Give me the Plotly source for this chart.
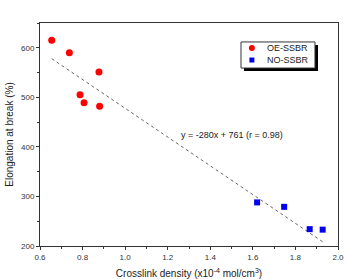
import plotly.graph_objects as go

oe_x = [0.655, 0.738, 0.877, 0.788, 0.807, 0.880]
oe_y = [615, 590, 551, 505, 489, 482]
no_x = [1.620, 1.747, 1.867, 1.928]
no_y = [288, 279, 234, 233]
# dotted fit line as drawn in the picture (end points)
fit_x = [0.655, 1.93]
fit_y = [578, 208]
fit_label = "y = -280x + 761 (r = 0.98)"
legend_names = ["OE-SSBR", "NO-SSBR"]

font = "Liberation Sans, Arial, sans-serif"
red = "#ff0000"
blue = "#0000ee"
fig = go.Figure()
fig.add_trace(go.Scatter(x=fit_x, y=fit_y, mode="lines", showlegend=False,
                         line=dict(color="#666666", width=1, dash="dot")))
fig.add_trace(go.Scatter(x=oe_x, y=oe_y, mode="markers", name=legend_names[0], showlegend=False,
                         marker=dict(color=red, size=7, symbol="circle")))
fig.add_trace(go.Scatter(x=no_x, y=no_y, mode="markers", name=legend_names[1], showlegend=False,
                         marker=dict(color=blue, size=6, symbol="square")))

fig.add_annotation(x=1.50, y=424, text=fit_label, showarrow=False,
                   font=dict(size=9, color="#222222", family=font))

# manual legend (box with shadow)
fig.add_shape(type="rect", xref="paper", yref="paper",
              x0=0.6846, x1=0.9329, y0=0.785, y1=0.9013,
              fillcolor="black", line=dict(width=0))
fig.add_shape(type="rect", xref="paper", yref="paper",
              x0=0.6745, x1=0.9228, y0=0.798, y1=0.915,
              fillcolor="white", line=dict(color="#333333", width=1))
fig.add_shape(type="circle", xref="paper", yref="paper",
              x0=0.711 - 0.0101, x1=0.711 + 0.0101, y0=0.888 - 0.01345, y1=0.888 + 0.01345,
              fillcolor=red, line=dict(width=0))
fig.add_shape(type="rect", xref="paper", yref="paper",
              x0=0.711 - 0.0084, x1=0.711 + 0.0084, y0=0.834 - 0.0112, y1=0.834 + 0.0112,
              fillcolor=blue, line=dict(width=0))
for name, yy in zip(legend_names, [0.888, 0.834]):
    fig.add_annotation(xref="paper", yref="paper", x=0.755, y=yy, text=name,
                       showarrow=False, xanchor="left", yanchor="middle",
                       font=dict(size=9, color="#222222", family=font))

axis_common = dict(showline=True, linecolor="#333333", linewidth=1, mirror=True,
                   ticks="outside", ticklen=3, tickcolor="#333333", showgrid=False,
                   zeroline=False, automargin=False,
                   tickfont=dict(size=8, color="#333333", family=font))
fig.update_xaxes(range=[0.6, 2.0], dtick=0.2, tickformat=".1f",
                 minor=dict(ticks="outside", ticklen=2, dtick=0.1, tickcolor="#333333"),
                 title=dict(text="Crosslink density (x10<sup>-4</sup> mol/cm<sup>3</sup>)",
                            font=dict(size=10, color="#222222", family=font), standoff=9),
                 **axis_common)
fig.update_yaxes(range=[200, 650], dtick=100,
                 minor=dict(ticks="outside", ticklen=2, dtick=50, tickcolor="#333333"),
                 title=dict(text="Elongation at break (%)",
                            font=dict(size=10, color="#222222", family=font), standoff=5),
                 **axis_common)
fig.update_layout(width=347, height=279, margin=dict(l=40, r=9, t=23, b=33),
                  plot_bgcolor="white", paper_bgcolor="white", showlegend=False)
fig.write_html("out.html")
